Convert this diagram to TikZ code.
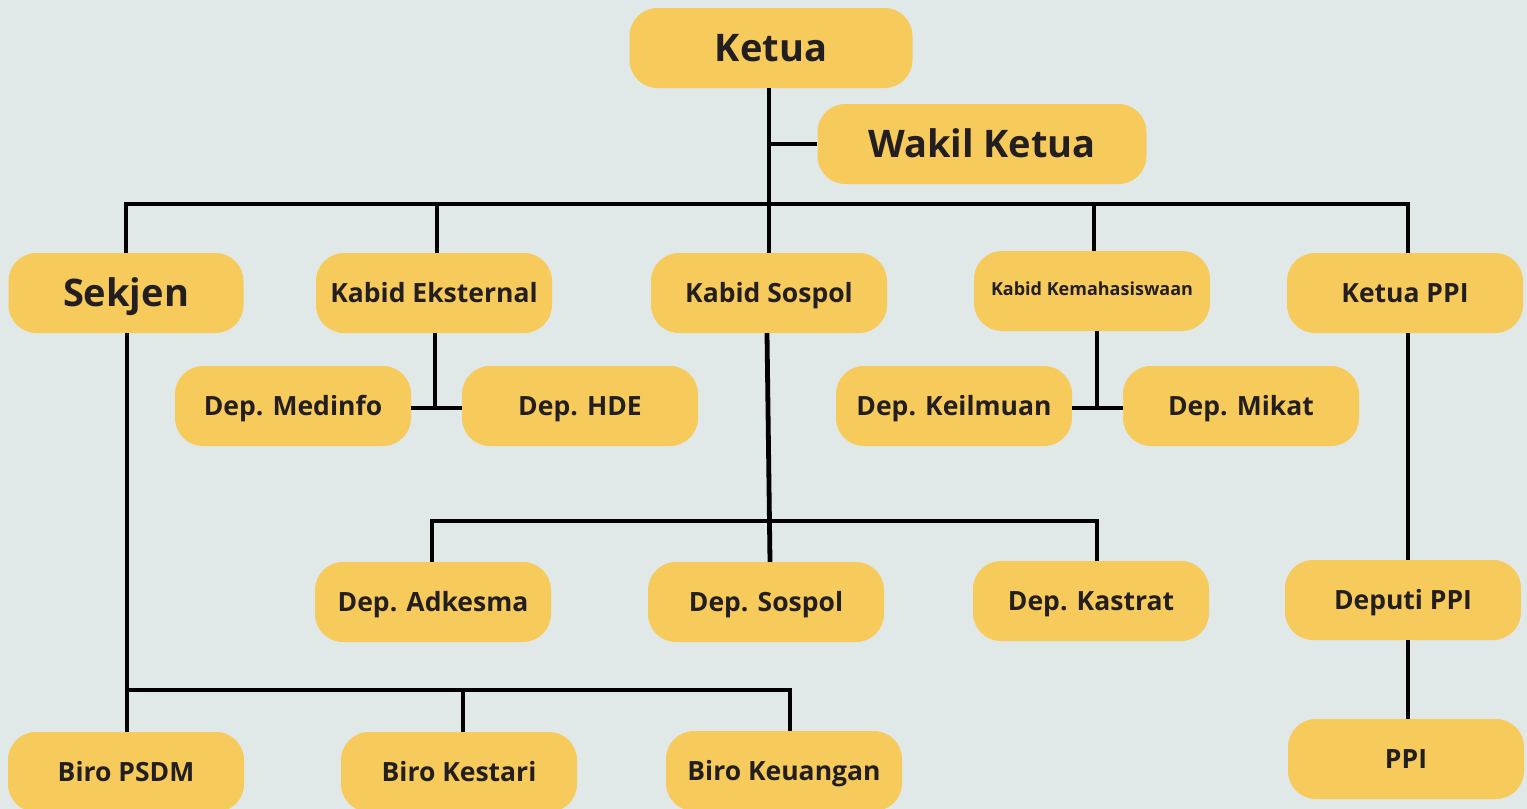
\documentclass[tikz,border=0pt]{standalone}
\usepackage{fontspec}
\setmainfont{Open Sans}
\definecolor{canvas}{HTML}{E1E8E8}
\definecolor{boxfill}{HTML}{F6CA5B}
\definecolor{ink}{HTML}{231F20}
\tikzset{
  unit/.style={rectangle, rounded corners=28pt, fill=boxfill, text=ink,
    minimum width=236pt, minimum height=80pt, inner sep=0pt,
    font=\bfseries\fontsize{26.5}{30}\selectfont, text height=19pt, text depth=0pt},
  bigunit/.style={unit, font=\bfseries\fontsize{38}{42}\selectfont, text height=27pt},
  smallunit/.style={unit, font=\bfseries\fontsize{18}{21}\selectfont, text height=9pt},
  link/.style={line width=4.8pt, draw=black, line join=miter}
}
\begin{document}
\begin{tikzpicture}[x=1pt, y=-1pt]
\clip (0,0) rectangle (1527,809);
\fill[canvas] (0,0) rectangle (1527,809);

% leadership
\node[bigunit, minimum width=283pt] (ketua) at (771,48) {Ketua};
\node[bigunit, minimum width=329pt] (wakil) at (982,144) {Wakil Ketua};

% second level
\node[bigunit, minimum width=235pt] (sekjen) at (126,293) {Sekjen};
\node[unit] (eksternal) at (434,293) {Kabid Eksternal};
\node[unit] (sospol) at (769,293) {Kabid Sospol};
\node[smallunit] (kemahasiswaan) at (1092,291) {Kabid Kemahasiswaan};
\node[unit] (ketuappi) at (1405,293) {Ketua PPI};

% departments
\node[unit] (medinfo) at (293,406) {Dep. Medinfo};
\node[unit] (hde) at (580,406) {Dep. HDE};
\node[unit] (keilmuan) at (954,406) {Dep. Keilmuan};
\node[unit] (mikat) at (1241,406) {Dep. Mikat};
\node[unit] (adkesma) at (433,602) {Dep. Adkesma};
\node[unit] (depsospol) at (766,602) {Dep. Sospol};
\node[unit] (kastrat) at (1091,601) {Dep. Kastrat};
\node[unit] (deputi) at (1403,600) {Deputi PPI};
\node[unit] (ppi) at (1406,759) {PPI};

% bureaus
\node[unit] (psdm) at (126,772) {Biro PSDM};
\node[unit] (kestari) at (459,772) {Biro Kestari};
\node[unit] (keuangan) at (784,771) {Biro Keuangan};

% junction coordinates
\coordinate (mainbus) at (0,204);
\coordinate (sosbus) at (0,521);
\coordinate (sekbus) at (0,690);

% trunk from Ketua down to Kabid Sospol, with Wakil Ketua branch
\draw[link] (sospol.north |- ketua.south) -- (sospol.north);
\draw[link] (sospol.north |- wakil.west) -- (wakil.west);

% main bus with drops
\draw[link] (sekjen.north) -- (sekjen.north |- mainbus) -- ([xshift=3pt]ketuappi.north |- mainbus) -- ([xshift=3pt]ketuappi.north);
\draw[link] ([xshift=3pt]eksternal.north |- mainbus) -- ([xshift=3pt]eksternal.north);
\draw[link] ([xshift=2pt]kemahasiswaan.north |- mainbus) -- ([xshift=2pt]kemahasiswaan.north);

% Kabid Eksternal departments
\draw[link] ([xshift=1pt]eksternal.south) -- ([xshift=1pt]eksternal.south |- medinfo.east);
\draw[link] ([yshift=-2pt]medinfo.east) -- ([yshift=-2pt]hde.west);

% Kabid Kemahasiswaan departments
\draw[link] ([xshift=5pt]kemahasiswaan.south) -- ([xshift=5pt]kemahasiswaan.south |- keilmuan.east);
\draw[link] ([yshift=-2pt]keilmuan.east) -- ([yshift=-2pt]mikat.west);

% Kabid Sospol departments
\draw[link] ([xshift=-2pt]sospol.south) -- ([xshift=4pt]depsospol.north);
\draw[link] ([xshift=-1pt]adkesma.north) -- ([xshift=-1pt]adkesma.north |- sosbus) -- ([xshift=6pt]kastrat.north |- sosbus) -- ([xshift=6pt]kastrat.north);

% Sekjen bureaus
\draw[link] ([xshift=1pt]sekjen.south) -- ([xshift=1pt]psdm.north);
\draw[link] ([xshift=1pt]psdm.north |- sekbus) -- ([xshift=6pt]keuangan.north |- sekbus) -- ([xshift=6pt]keuangan.north);
\draw[link] ([xshift=4pt]kestari.north |- sekbus) -- ([xshift=4pt]kestari.north);

% PPI chain
\draw[link] ([xshift=3pt]ketuappi.south) -- ([xshift=3pt]ketuappi.south |- deputi.north);
\draw[link] ([xshift=5pt]deputi.south) -- ([xshift=5pt]deputi.south |- ppi.north);
\end{tikzpicture}
\end{document}
